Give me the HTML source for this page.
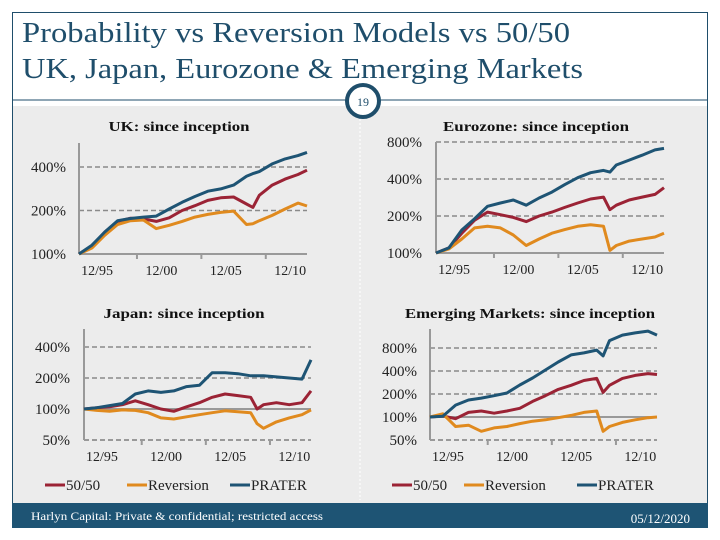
<!DOCTYPE html>
<html><head><meta charset="utf-8"><style>
body{margin:0;background:#fff;}
svg{display:block;font-family:"Liberation Serif",serif;}
</style></head><body>
<svg id="s" width="720" height="540" viewBox="0 0 720 540">
<rect x="12" y="106" width="696" height="398" fill="#ececec"/>
<rect x="12.5" y="12.5" width="695" height="515" fill="none" stroke="#1f4e6b" stroke-width="1"/>
<line x1="12" y1="100" x2="708" y2="100" stroke="#1f4e6b" stroke-width="1"/>
<line x1="360" y1="115" x2="360" y2="500" stroke="#fff" stroke-width="1" stroke-dasharray="2,2"/>
<text x="22" y="42" font-size="28" fill="#1f4e6b" textLength="548" lengthAdjust="spacingAndGlyphs">Probability vs Reversion Models vs 50/50</text>
<text x="22" y="78" font-size="28" fill="#1f4e6b" textLength="561" lengthAdjust="spacingAndGlyphs">UK, Japan, Eurozone &amp; Emerging Markets</text>
<circle cx="363" cy="101" r="16" fill="#fff" stroke="#1f4e6b" stroke-width="4"/>
<text x="363" y="106" font-size="12" fill="#1f4e6b" text-anchor="middle">19</text>
<rect x="12" y="503" width="696" height="25" fill="#1e5474"/>
<text x="31" y="520" font-size="12" fill="#fff" textLength="292" lengthAdjust="spacingAndGlyphs">Harlyn Capital: Private &amp; confidential; restricted access</text>
<text x="690" y="523" font-size="13" fill="#fff" text-anchor="end">05/12/2020</text>
<g id="charts"></g>
</svg>
<script>
const dates=[1994.5,1995.5,1996.5,1997.5,1998.5,1999.5,2000.5,2001.5,2002.5,2003.5,2004.5,2005.5,2006.5,2007.5,2008.0,2008.5,2009.5,2010.5,2011.5,2012.2];
const xTickLabels=["12/95","12/00","12/05","12/10"];
const xLabelYears=[1995.9,2000.9,2005.9,2010.9];
const xTickYears=[1999.0,2004.0,2009.0];
const seriesNames=["50/50","Reversion","PRATER"];
const ukRed=[100,113,142,168,177,175,168,178,200,216,235,245,248,222,210,255,300,330,355,380];
const ukOrange=[100,110,135,160,170,172,150,158,168,180,188,194,198,160,162,170,185,205,225,215];
const ukBlue=[100,115,142,170,176,180,183,205,228,250,272,282,300,345,360,372,420,455,480,505];
const euRed=[100,110,145,185,215,205,195,180,200,215,235,255,275,285,225,245,270,285,300,340];
const euOrange=[100,108,130,160,165,160,140,115,130,145,155,165,170,165,105,115,125,130,135,145];
const euBlue=[100,110,154,190,240,255,270,245,280,313,360,410,450,470,455,520,570,625,690,710];
const jpRed=[100,103,105,110,120,110,100,95,105,115,130,140,135,130,100,110,115,110,115,150];
const jpOrange=[100,97,95,98,97,92,82,80,84,88,92,96,94,92,72,65,75,82,88,98];
const jpBlue=[100,103,108,113,140,150,145,150,165,170,225,225,220,210,210,210,205,200,195,300];
const emRed=[100,103,95,115,120,112,120,130,160,190,230,260,300,320,210,260,320,350,370,360];
const emOrange=[100,110,75,78,65,72,75,82,88,92,98,105,115,120,65,75,85,92,98,100];
const emBlue=[100,102,143,167,177,190,206,262,324,412,525,650,690,750,630,1000,1180,1260,1330,1180];
const ukTicks=[100,200,400], euTicks=[100,200,400,800], jpTicks=[50,100,200,400], emTicks=[50,100,200,400,800];
const colors=["#9b2335","#e08a1e","#1e5474"];
const NS="http://www.w3.org/2000/svg";
const root=document.getElementById("charts");
function el(tag,attrs,parent){const e=document.createElementNS(NS,tag);for(const k in attrs)e.setAttribute(k,attrs[k]);(parent||root).appendChild(e);return e;}
function chart(cfg){
  const g=el("g",{});
  
  
  const x=y=>cfg.x0+(y-1994.5)*(cfg.x1-cfg.x0)/(2012.2-1994.5);
  const yv=v=>cfg.y100-Math.log2(v/100)*cfg.step;
  const t=el("text",{x:cfg.tx,y:cfg.ty,"font-size":14,"font-weight":"bold","text-anchor":"middle",fill:"#111",textLength:cfg.tw,lengthAdjust:"spacingAndGlyphs"},g);
  t.textContent=cfg.title;
  
  
  const ymin=Math.min(...cfg.ticks);
  cfg.ticks.forEach(v=>{
    const yy=yv(v);
    if(v!==ymin){
      const ln=el("line",{x1:cfg.x0,x2:cfg.x1,y1:yy,y2:yy,stroke:v===100?"#999":"#8a8a8a","stroke-width":v===100?2:1.5,"stroke-dasharray":v===100?"":"5,3"},g);
      
      
    }
    const lb=el("text",{x:cfg.lx,y:yy+5,"font-size":15,"text-anchor":"end",fill:"#222"},g);
    lb.textContent=v+"%";
    
    
  });
  const yb=yv(ymin);
  const xa=el("line",{x1:cfg.x0,x2:cfg.x1,y1:yb,y2:yb,stroke:"#999","stroke-width":2,"stroke-dasharray":cfg.dashBase?"5,3":""},g);
  
  
  const ya=el("line",{x1:cfg.x0,x2:cfg.x0,y1:cfg.ytop,y2:yb,stroke:"#999","stroke-width":2},g);
  
  
  xTickYears.forEach(yr=>{
    const tk=el("line",{x1:x(yr),x2:x(yr),y1:yb,y2:yb+5,stroke:"#999","stroke-width":2},g);
    
    
  });
  xTickLabels.forEach((s,i)=>{
    const lb=el("text",{x:x(xLabelYears[i]),y:yb+21,"font-size":14,"text-anchor":"middle",fill:"#222"},g);
    lb.textContent=s;
    
    
  });
  cfg.series.forEach((vals,i)=>{
    const p=el("polyline",{points:vals.map((v,j)=>x(dates[j]).toFixed(1)+","+yv(v).toFixed(1)).join(" "),fill:"none",stroke:colors[i],"stroke-width":3,"stroke-linejoin":"round"},g);
    
    
  });
}
chart({name:"uk-chart",title:"UK: since inception",tx:179,ty:131,tw:141,x0:79,x1:307,y100:254,step:43.5,ytop:143,lx:66,ticks:ukTicks,series:[ukRed,ukOrange,ukBlue]});
chart({name:"eurozone-chart",title:"Eurozone: since inception",tx:536,ty:131,tw:186,x0:436,x1:664,y100:253,step:37,ytop:142,lx:422,ticks:euTicks,series:[euRed,euOrange,euBlue],dashBase:false});
chart({name:"japan-chart",title:"Japan: since inception",tx:184,ty:318,tw:161,x0:84,x1:311,y100:409,step:31,ytop:329,lx:70,ticks:jpTicks,series:[jpRed,jpOrange,jpBlue],dashBase:true});
chart({name:"em-chart",title:"Emerging Markets: since inception",tx:530,ty:318,tw:250,x0:430,x1:657,y100:417,step:23,ytop:329,lx:417,ticks:emTicks,series:[emRed,emOrange,emBlue],dashBase:true});
function legend(name,items){
  const g=el("g",{});
  
  
  items.forEach((it,i)=>{
    const ln=el("line",{x1:it[0],x2:it[0]+20,y1:485,y2:485,stroke:colors[i],"stroke-width":3},g);
    
    
    const tx=el("text",{x:it[0]+21,y:490,"font-size":15,fill:"#222"},g);
    tx.textContent=seriesNames[i];
    
    
  });
}
legend("legend-left",[[45],[127],[230]]);
legend("legend-right",[[392],[464],[577]]);
</script>
</body></html>
